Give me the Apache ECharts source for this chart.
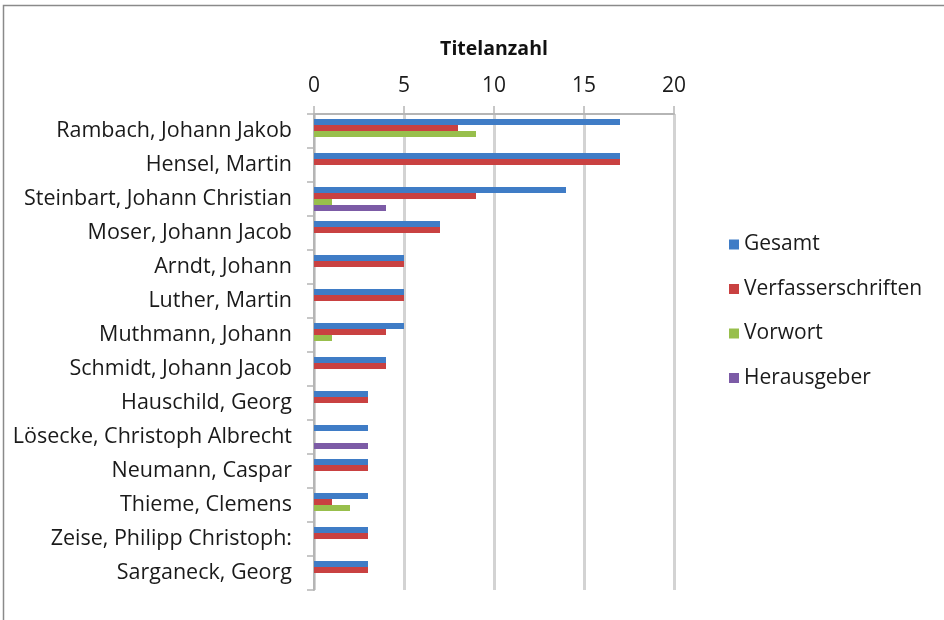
<!DOCTYPE html>
<html>
<head>
<meta charset="utf-8">
<script src="https://cdn.jsdelivr.net/npm/echarts@6/dist/echarts.min.js"></script>
<style>
  html, body { margin: 0; padding: 0; background: #fff; }
  #chart { width: 944px; height: 620px; }
</style>
</head>
<body>
<div id="chart"></div>
<script>
// Authors, top to bottom
const authors = [
  'Rambach, Johann Jakob',
  'Hensel, Martin',
  'Steinbart, Johann Christian',
  'Moser, Johann Jacob',
  'Arndt, Johann',
  'Luther, Martin',
  'Muthmann, Johann',
  'Schmidt, Johann Jacob',
  'Hauschild, Georg',
  'Lösecke, Christoph Albrecht',
  'Neumann, Caspar',
  'Thieme, Clemens',
  'Zeise, Philipp Christoph:',
  'Sarganeck, Georg'
];

// Number of titles per author (null = none)
const gesamt             = [17, 17, 14, 7, 5, 5, 5, 4, 3, 3, 3, 3, 3, 3];
const verfasserschriften = [8, 17, 9, 7, 5, 5, 4, 4, 3, null, 3, 1, 3, 3];
const vorwort            = [9, null, 1, null, null, null, 1, null, null, null, null, 2, null, null];
const herausgeber        = [null, null, 4, null, null, null, null, null, null, 3, null, null, null, null];

const seriesNames = ['Gesamt', 'Verfasserschriften', 'Vorwort', 'Herausgeber'];
const seriesData = [gesamt, verfasserschriften, vorwort, herausgeber];
const seriesColors = ['#3f7cc6', '#c94141', '#98bf4c', '#7c5ba6'];

const axisTicks = { min: 0, max: 20, interval: 5 };
const font = '"Open Sans", Lato, sans-serif';

const chart = echarts.init(document.getElementById('chart'));
chart.setOption({
  backgroundColor: '#fff',
  animation: false,
  textStyle: { fontFamily: font },
  graphic: [{
    type: 'rect',
    shape: { x: 3.5, y: 5.5, width: 1200, height: 1200 },
    style: { fill: 'none', stroke: '#8a8a8a', lineWidth: 1.5 },
    silent: true
  }],
  legend: {
    orient: 'vertical',
    left: 724,
    top: 229,
    icon: 'rect',
    itemWidth: 10,
    itemHeight: 10,
    itemGap: 23.5,
    textStyle: { fontSize: 21, lineHeight: 21, color: '#1a1a1a', fontFamily: font },
    data: seriesNames
  },
  grid: { left: 314, right: 270, top: 114, bottom: 30, containLabel: false },
  xAxis: {
    type: 'value',
    position: 'top',
    min: axisTicks.min,
    max: axisTicks.max,
    interval: axisTicks.interval,
    name: 'Titelanzahl',
    nameLocation: 'middle',
    nameGap: 55,
    nameTextStyle: { fontSize: 19.5, fontWeight: 'bold', color: '#111', fontFamily: font },
    axisLine: { show: true, lineStyle: { color: '#b5b5b5', width: 2 } },
    axisTick: { show: true, length: 8, lineStyle: { color: '#b5b5b5', width: 1.5 } },
    axisLabel: { fontSize: 21, color: '#1a1a1a', margin: 17, fontFamily: font },
    splitLine: { show: true, lineStyle: { color: '#d3d3d3', width: 3 } }
  },
  yAxis: {
    type: 'category',
    inverse: true,
    data: authors,
    axisLine: { show: true, lineStyle: { color: '#b5b5b5', width: 2 } },
    axisTick: { show: true, length: 7, lineStyle: { color: '#b5b5b5', width: 1.5 } },
    axisLabel: { fontSize: 21.5, color: '#1a1a1a', margin: 22, fontFamily: font },
    splitLine: { show: false }
  },
  series: seriesNames.map((name, i) => ({
    name,
    type: 'bar',
    data: seriesData[i],
    barWidth: 6,
    barGap: '0%',
    itemStyle: { color: seriesColors[i] }
  }))
});
</script>
</body>
</html>
